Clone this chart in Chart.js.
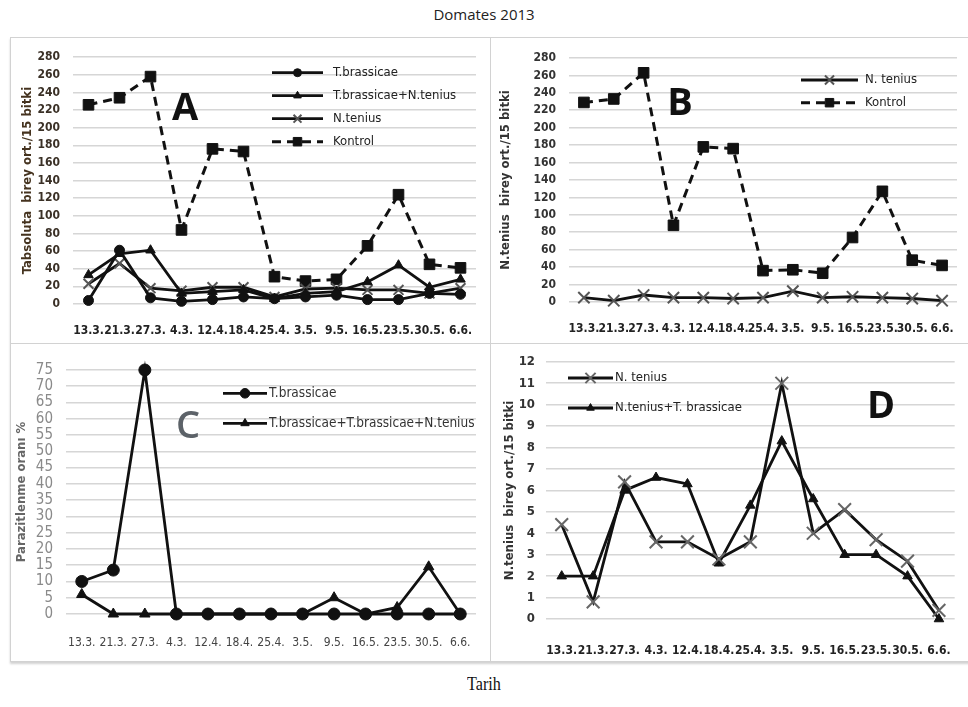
<!DOCTYPE html>
<html>
<head>
<meta charset="utf-8">
<title>Domates 2013</title>
<script src="https://cdn.jsdelivr.net/npm/chart.js@4"></script>
<style>
  body { margin: 0; width: 968px; height: 707px; background: #fff; position: relative; overflow: hidden; }
  .main-title { position: absolute; left: 0; width: 968px; top: 4px; text-align: center;
    font: 15px 'Open Sans', sans-serif; color: #222; }
  .bottom-title { position: absolute; left: 0; width: 968px; top: 673px; text-align: center;
    font: 19px 'Liberation Serif', serif; color: #111; transform: scaleX(0.85); }
  .frame { position: absolute; left: 10px; top: 37px; width: 964px; height: 623px;
    border: 1px solid #d2d2d2; box-shadow: 0 2px 2px rgba(0,0,0,.18); }
  .vdiv { position: absolute; left: 490px; top: 37px; width: 1px; height: 624px; background: #d2d2d2; }
  .hdiv { position: absolute; left: 10px; top: 343px; width: 960px; height: 1px; background: #d2d2d2; }
  canvas { position: absolute; }
  .letter { position: absolute; font: bold 38px 'Open Sans', sans-serif; transform: translate(-50%, -50%); line-height: 1; }
</style>
</head>
<body>
<div class="main-title">Domates 2013</div>
<div class="frame"></div>
<div class="vdiv"></div>
<div class="hdiv"></div>

<canvas id="chart-a" width="480" height="306" style="left:10px;top:37px"></canvas>
<canvas id="chart-b" width="478" height="306" style="left:490px;top:37px"></canvas>
<canvas id="chart-c" width="480" height="317" style="left:10px;top:343px"></canvas>
<canvas id="chart-d" width="478" height="317" style="left:490px;top:343px"></canvas>

<div class="letter" style="left:185px;top:105px;color:#111">A</div>
<div class="letter" style="left:680px;top:100px;color:#111">B</div>
<div class="letter" style="left:188px;top:423px;color:#5c6268;font-weight:600">C</div>
<div class="letter" style="left:881px;top:403px;color:#111">D</div>

<div class="bottom-title">Tarih</div>

<script>
/* ── Data ─────────────────────────────────────────────────── */
const dates = ['13.3.', '21.3.', '27.3.', '4.3.', '12.4.', '18.4.', '25.4.', '3.5.', '9.5.', '16.5.', '23.5.', '30.5.', '6.6.'];

// A – T.absoluta counts
const aBrassicae       = [4, 61, 7, 3, 5, 8, 6, 8, 10, 5, 5, 12, 11];
const aBrassicaeTenius = [33, 57, 61, 12, 14, 16, 6, 12, 14, 25, 44, 19, 28];
const aTenius          = [23, 46, 18, 15, 19, 19, 8, 17, 18, 16, 16, 12, 18];
const aKontrol         = [226, 234, 258, 84, 176, 173, 31, 26, 28, 66, 124, 45, 41];

// B – N.tenius counts
const bTenius  = [5, 1.5, 8, 5, 5, 4, 5, 12.5, 5, 6, 5, 4, 1.5];
const bKontrol = [229, 233, 263, 88, 178, 176, 36, 37, 33, 74, 127, 48, 42];

// C – parasitism rate %
const cBrassicae = [10, 13.5, 75, 0, 0, 0, 0, 0, 0, 0, 0, 0, 0];
const cCombined  = [6, 0, 0, 0, 0, 0, 0, 0, 5, 0, 2, 14.5, 0];

// D – N.tenius counts
const dTenius          = [4.4, 0.8, 6.4, 3.6, 3.6, 2.8, 3.6, 11, 4, 5.1, 3.7, 2.7, 0.4];
const dTeniusBrassicae = [2, 2, 6, 6.6, 6.3, 2.6, 5.3, 8.3, 5.6, 3, 3, 2, 0];

/* ── Shared styling ───────────────────────────────────────── */
const FONT = "'DejaVu Sans Condensed', 'Open Sans', sans-serif";

function series(label, data, style, extra) {
  const base = {
    label: label,
    data: data,
    borderColor: '#111',
    borderWidth: 2.8,
    tension: 0,
    clip: false,
    pointStyle: style,
    pointRadius: 5,
    pointBackgroundColor: '#111',
    pointBorderColor: '#111',
    pointBorderWidth: 1,
  };
  return Object.assign(base, extra || {});
}

/* legend drawn inside the plot, line + marker + text */
const insideLegend = {
  id: 'insideLegend',
  afterDatasetsDraw(chart, args, opts) {
    const ctx = chart.ctx;
    ctx.save();
    chart.data.datasets.forEach((ds, i) => {
      const y = opts.y + i * opts.gap;
      const x0 = opts.x, x1 = opts.x + opts.len;
      ctx.strokeStyle = ds.borderColor;
      ctx.lineWidth = ds.borderWidth;
      ctx.setLineDash(ds.borderDash || []);
      ctx.beginPath();
      ctx.moveTo(x0, y);
      ctx.lineTo(x1, y);
      ctx.stroke();
      ctx.setLineDash([]);
      ctx.fillStyle = ds.pointBackgroundColor;
      ctx.strokeStyle = ds.pointBorderColor;
      ctx.lineWidth = ds.pointBorderWidth;
      Chart.helpers.drawPoint(ctx, {
        pointStyle: ds.pointStyle, rotation: 0,
        radius: ds.pointRadius * 0.8, borderWidth: ds.pointBorderWidth
      }, (x0 + x1) / 2, y);
      ctx.fillStyle = opts.color;
      ctx.font = opts.font;
      ctx.textBaseline = 'middle';
      ctx.textAlign = 'left';
      ctx.fillText(ds.label, x1 + opts.pad, y);
    });
    ctx.restore();
  }
};

function makeChart(id, p) {
  return new Chart(document.getElementById(id), {
    type: 'line',
    data: { labels: dates, datasets: p.datasets },
    plugins: [insideLegend],
    options: {
      responsive: false,
      animation: false,
      layout: { padding: { left: 0, right: p.right, top: p.top, bottom: 0 } },
      plugins: {
        legend: { display: false },
        tooltip: { enabled: false },
        insideLegend: p.legend,
      },
      scales: {
        x: {
          offset: true,
          grid: { display: false },
          border: { display: false },
          ticks: {
            autoSkip: false, maxRotation: 0, padding: p.xPad,
            font: { family: FONT, size: 12, weight: p.xBold ? 'bold' : 'normal' },
            color: p.xColor,
          },
          afterFit: s => { s.height = p.xHeight; },
        },
        y: {
          min: 0, max: p.max,
          grid: { color: '#d6d6d6', lineWidth: 1.6, drawTicks: false },
          border: { display: false },
          ticks: {
            autoSkip: false, stepSize: p.step, padding: p.yPad,
            font: { family: FONT, size: p.yFont, weight: p.yBold ? 'bold' : 'normal' },
            color: p.yColor,
          },
          title: {
            display: true, text: p.yTitle, color: p.titleColor,
            font: { family: FONT, size: 13, weight: 'bold' },
            padding: { top: p.titlePad, bottom: 0 },
          },
          afterFit: s => { s.width = p.yWidth; },
        },
      },
    },
  });
}

/* ── Panel A ──────────────────────────────────────────────── */
makeChart('chart-a', {
  datasets: [
    series('T.brassicae', aBrassicae, 'circle'),
    series('T.brassicae+N.tenius', aBrassicaeTenius, 'triangle', { pointRadius: 5.5 }),
    series('N.tenius', aTenius, 'crossRot', { pointRadius: 7, pointBorderColor: '#555', pointBorderWidth: 2 }),
    series('Kontrol', aKontrol, 'rect', { borderDash: [9, 6], borderWidth: 3, pointRadius: 7.5 }),
  ],
  max: 280, step: 20,
  right: 14, top: 18, yWidth: 63, xHeight: 39, xPad: 12, yPad: 13,
  yFont: 12, yBold: true, yColor: '#3a3026', xBold: true, xColor: '#222',
  yTitle: 'Tabsoluta  birey ort./15 bitki', titleColor: '#45331f', titlePad: 10,
  legend: { x: 262, y: 35.7, gap: 23, len: 51, pad: 10, font: '13px ' + FONT, color: '#222' },
});

/* ── Panel B ──────────────────────────────────────────────── */
makeChart('chart-b', {
  datasets: [
    series('N. tenius', bTenius, 'crossRot', { pointRadius: 8, pointBorderColor: '#555', pointBorderWidth: 2 }),
    series('Kontrol', bKontrol, 'rect', { borderDash: [9, 6], borderWidth: 3, pointRadius: 7.5 }),
  ],
  max: 280, step: 20,
  right: 11, top: 21, yWidth: 79, xHeight: 41, xPad: 12, yPad: 13,
  yFont: 12, yBold: true, yColor: '#333', xBold: true, xColor: '#222',
  yTitle: 'N.tenius  birey ort./15 bitki', titleColor: '#333', titlePad: 8,
  legend: { x: 311, y: 43, gap: 22.7, len: 57, pad: 7, font: '13px ' + FONT, color: '#222' },
});

/* ── Panel C ──────────────────────────────────────────────── */
makeChart('chart-c', {
  datasets: [
    series('T.brassicae', cBrassicae, 'circle', { pointRadius: 6 }),
    series('T.brassicae+T.brassicae+N.tenius', cCombined, 'triangle', { pointRadius: 6 }),
  ],
  max: 75, step: 5,
  right: 14, top: 27, yWidth: 56, xHeight: 46, xPad: 14, yPad: 13,
  yFont: 15, yBold: false, yColor: '#8a8a8a', xBold: false, xColor: '#444',
  yTitle: 'Parazitlenme oranı %', titleColor: '#666', titlePad: 4,
  legend: { x: 213, y: 50.3, gap: 30, len: 44, pad: 2, font: '13.5px ' + FONT, color: '#333' },
});

/* ── Panel D ──────────────────────────────────────────────── */
makeChart('chart-d', {
  datasets: [
    series('N. tenius', dTenius, 'crossRot', { pointRadius: 9, pointBorderColor: '#666', pointBorderWidth: 2 }),
    series('N.tenius+T. brassicae', dTeniusBrassicae, 'triangle', { pointRadius: 5.5 }),
  ],
  max: 12, step: 1,
  right: 8, top: 14, yWidth: 56, xHeight: 41, xPad: 17, yPad: 11,
  yFont: 13, yBold: true, yColor: '#333', xBold: true, xColor: '#222',
  yTitle: 'N.tenius  birey ort./15 bitki', titleColor: '#333', titlePad: 12,
  legend: { x: 78, y: 35, gap: 30, len: 45, pad: 2, font: '13px ' + FONT, color: '#222' },
});
</script>
</body>
</html>
